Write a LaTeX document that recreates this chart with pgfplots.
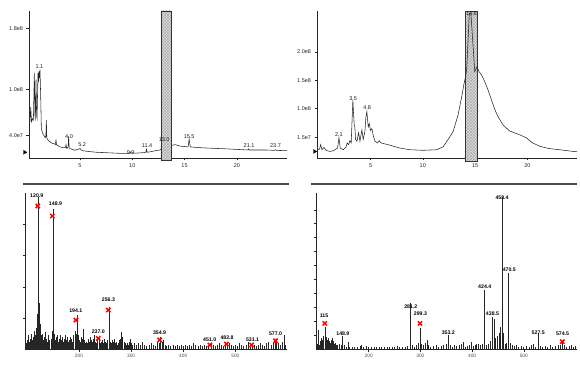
\documentclass[border=0pt]{standalone}
\usepackage{fontspec}
\setmainfont{Liberation Sans}
\usepackage{pgfplots}
\pgfplotsset{compat=1.18}
\usetikzlibrary{patterns}
\tikzset{
  plab/.style={font=\fontsize{5.5}{6}\selectfont, text=black!90, inner sep=0.5pt},
  slab/.style={font=\bfseries\fontsize{5.2}{6}\selectfont, text=black, inner sep=0.5pt},
}
\pgfplotsset{
  base/.style={scale only axis, anchor=south west, axis lines*=left,
    axis line style={-, line width=0.7pt, black!85}, tick align=outside,
    major tick length=2.5pt, tick style={line width=0.5pt, black!85},
    clip=false, /pgf/number format/assume math mode=true},
  chrom/.style={base, ticklabel style={font=\fontsize{5.5}{6}\selectfont, text=black!85},
    xtick={5,10,15,20}},
  spec/.style={base, ticklabel style={font=\fontsize{4.8}{5}\selectfont, text=black!70},
    xtick={200,300,400,500}, xticklabel style={yshift=1pt}, yticklabels={}, ymin=0},
}
\begin{document}
\begin{tikzpicture}
\useasboundingbox (0pt,0pt) rectangle (580pt,369pt);
% ---------------- top left chromatogram ----------------
\begin{axis}[chrom, at={(29pt,211pt)}, width=258pt, height=147pt,
  xmin=0.12, xmax=24.8, ymin=0.105, ymax=2.03,
  ytick={0.4,1.0,1.8}, yticklabels={4.0e7,1.0e8,1.8e8}]
\addplot[black!85, line width=0.55pt] coordinates {
(0.15,0.54)(0.22,0.60)(0.29,0.77)(0.36,0.58)(0.45,0.62)(0.54,0.60)(0.63,1.22)(0.70,0.64)
(0.73,0.62)(0.79,1.13)(0.85,0.66)(0.89,0.63)(0.98,1.22)(1.03,1.10)(1.08,1.24)(1.12,1.15)
(1.17,1.26)(1.24,0.91)(1.30,0.49)(1.40,0.44)(1.49,0.41)(1.60,0.39)(1.68,0.37)(1.74,0.40)
(1.78,0.60)(1.82,0.38)(1.87,0.35)(2.10,0.32)(2.29,0.30)(2.55,0.29)(2.65,0.28)(2.70,0.35)
(2.75,0.28)(2.83,0.27)(3.10,0.25)(3.40,0.24)(3.60,0.24)(3.66,0.28)(3.72,0.23)(3.78,0.23)
(3.87,0.26)(3.91,0.39)(3.96,0.24)(4.04,0.23)(4.20,0.22)(4.36,0.21)(4.60,0.21)(4.85,0.22)
(5.0,0.23)(5.1,0.21)(5.3,0.20)(5.8,0.19)(6.59,0.18)(7.4,0.175)(8.18,0.17)(9.0,0.165)
(9.6,0.165)(9.77,0.17)(9.84,0.185)(9.9,0.17)(10.5,0.17)(11.04,0.175)(11.3,0.18)(11.36,0.22)
(11.42,0.18)(11.68,0.185)(12.2,0.20)(12.64,0.21)(12.9,0.24)(13.0,0.29)(13.1,0.25)(13.4,0.26)
(13.75,0.27)(14.1,0.28)(14.6,0.26)(15.0,0.255)(15.34,0.25)(15.44,0.35)(15.55,0.25)(16.45,0.24)
(17.2,0.235)(18.05,0.23)(19.0,0.225)(19.64,0.22)(20.4,0.215)(21.06,0.21)(21.12,0.225)(21.2,0.21)
(22.0,0.21)(22.8,0.21)(23.6,0.205)(23.7,0.215)(23.8,0.205)(24.8,0.20)};
\addplot[fill=gray!25, draw=black!80, line width=0.4pt,
  postaction={pattern=crosshatch, pattern color=gray!65}]
  coordinates {(12.73,0.08)(13.75,0.08)(13.75,2.03)(12.73,2.03)} -- cycle;
\addplot[only marks, mark=triangle*, mark size=2.2pt, mark options={rotate=-90, fill=black}]
  coordinates {(-0.30,0.18)};
\node[plab] at (axis cs:1.11,1.30) {1.1};
\node[plab] at (axis cs:3.95,0.39) {4.0};
\node[plab] at (axis cs:5.2,0.275) {5.2};
\node[plab] at (axis cs:9.84,0.175) {9.9};
\node[plab] at (axis cs:11.42,0.27) {11.4};
\node[plab] at (axis cs:13.05,0.34) {13.0};
\node[plab] at (axis cs:15.44,0.39) {15.5};
\node[plab] at (axis cs:21.17,0.27) {21.1};
\node[plab] at (axis cs:23.7,0.27) {23.7};
\end{axis}
% ---------------- top right chromatogram ----------------
\begin{axis}[chrom, at={(317pt,211pt)}, width=260pt, height=146.6pt,
  xmin=-0.12, xmax=24.75, ymin=0.135, ymax=2.71,
  ytick={0.5,1.0,1.5,2.0}, yticklabels={1.5e7,1.0e8,1.5e8,2.0e8}]
\addplot[fill=gray!25, draw=black!80, line width=0.4pt,
  postaction={pattern=crosshatch, pattern color=gray!65}]
  coordinates {(14.1,0.08)(15.2,0.08)(15.2,2.71)(14.1,2.71)} -- cycle;
\addplot[black!85, line width=0.55pt] coordinates {
(0.0,0.28)(0.12,0.29)(0.23,0.37)(0.35,0.28)(0.54,0.32)(0.73,0.27)(1.12,0.25)(1.4,0.26)
(1.6,0.28)(1.85,0.31)(1.98,0.49)(2.1,0.31)(2.4,0.28)(2.66,0.33)(2.77,0.40)(2.9,0.37)
(3.03,0.44)(3.15,0.40)(3.31,1.15)(3.38,0.90)(3.44,0.72)(3.5,0.68)(3.57,0.46)(3.7,0.43)
(3.86,0.58)(3.99,0.43)(4.17,0.63)(4.3,0.46)(4.46,0.60)(4.56,0.86)(4.65,0.95)(4.72,0.80)
(4.78,0.68)(4.88,0.74)(5.0,0.62)(5.13,0.65)(5.26,0.53)(5.42,0.43)(5.67,0.40)(5.83,0.44)
(6.0,0.40)(6.85,0.36)(7.8,0.31)(8.76,0.28)(10.03,0.27)(11.3,0.28)(11.94,0.33)(12.42,0.46)
(12.9,0.60)(13.37,0.89)(13.7,1.19)(13.92,1.42)(14.1,1.57)(14.2,1.70)(14.45,2.68)(14.6,2.68)
(14.97,1.65)(15.19,1.74)(15.38,1.65)(15.6,1.60)(15.92,1.48)(16.24,1.33)(16.56,1.16)(16.9,0.98)
(17.2,0.86)(17.7,0.71)(18.3,0.61)(19.3,0.54)(19.9,0.49)(20.5,0.40)(21.2,0.34)(22.1,0.30)
(23.1,0.28)(24.4,0.25)(24.75,0.245)};
\addplot[only marks, mark=triangle*, mark size=2.2pt, mark options={rotate=-90, fill=black}]
  coordinates {(-0.35,0.25)};
\node[plab] at (axis cs:1.98,0.54) {2.1};
\node[plab] at (axis cs:3.34,1.17) {3.5};
\node[plab] at (axis cs:4.68,1.02) {4.8};
\node[plab] at (axis cs:14.65,2.67) {14.6};
\end{axis}
% separator lines
\draw[line width=1.1pt, black!70] (23pt,185pt) -- (289pt,185pt);
\draw[line width=1.1pt, black!70] (311pt,185pt) -- (577pt,185pt);
% ---------------- bottom left spectrum ----------------
\begin{axis}[spec, at={(25pt,19.5pt)}, width=262pt, height=156.5pt,
  xmin=96.5, xmax=599, ymax=100, ytick={20,40,60,80}]
\addplot[ycomb, black!85, line width=0.55pt] coordinates {
(98,4)(100,6)(102,9)(104,5)(106,7)(108,10)(110,6)(112,8)(114,12)(116,9)(118,14)(120,20)
(121,23)(121.6,40)(122.9,97.6)(124,30)(125,16)(126,12)(128,9)(130,10)(132,6)(134,8)(136,11)
(138,7)(140,5)(142,9)(144,6)(146,7)(148,12)(149,8)(150.9,90)(152,10)(154,6)(156,8)(158,9)
(160,5)(162,7)(164,9)(166,6)(168,8)(170,5)(172,7)(174,9)(176,6)(178,8)(180,5)(182,6)(184,8)
(186,7)(188,5)(190,9)(192,12)(194,10)(196.1,22)(198,9)(200,6)(202,5)(204,8)(206,7)(208,13)
(210,6)(212,4)(214,5)(216,4)(218,7)(220,5)(222,8)(224,6)(226,5)(228,7)(230,9)(232,5)(234,4)
(236,6)(238,5)(239,8)(241,4)(243,5)(245,6)(247,4)(249,7)(251,5)(253,4)(255,6)(258.3,27.4)
(260,5)(262,4)(264,6)(266,5)(268,7)(270,4)(272,5)(274,3)(276,4)(278,6)(280,7)(282,11)(284,8)
(286,5)(288,4)(290,3)(292,4)(294,3)(296,5)(298,7)(300,4)(302,3)(306,4)(310,3)(314,4)(318,3)
(322,5)(326,3)(330,2)(334,3)(338,4)(342,3)(346,2)(350,5)(354,4)(356.9,8)(359,5)(362,6)(365,3)
(368,2)(372,3)(376,2)(380,3)(384,2)(388,3)(392,2)(396,3)(400,2)(404,3)(408,2)(412,3)(416,2)
(420,4)(424,3)(428,2)(432,3)(436,2)(440,3)(444,2)(448,3)(453,4)(457,3)(461,2)(465,3)(469,4)
(473,3)(477,2)(481,4)(484.8,5)(488,4)(492,3)(496,2)(500,3)(504,2)(508,4)(512,3)(516,2)(520,3)
(524,5)(528,3)(533,4)(536,3)(540,2)(544,3)(548,4)(552,3)(556,2)(560,4)(564,5)(568,3)(572,4)
(576,6)(579,5)(582,4)(586,3)(590,5)(593,9)(596,3)};
\addplot[only marks, mark=x, red, mark size=3pt, line width=1.5pt] coordinates {
(121,91.7)(148.9,85.3)(194.1,18.8)(237,7.1)(256.3,25.2)(354.9,6.1)(451,2.9)(482.8,3.5)
(531.1,2.9)(577,5.6)};
\node[slab] at (axis cs:119,98) {120.9};
\node[slab] at (axis cs:155,93.4) {148.9};
\node[slab] at (axis cs:194,24.6) {194.1};
\node[slab] at (axis cs:237,11.4) {237.0};
\node[slab] at (axis cs:256.5,31.6) {256.3};
\node[slab] at (axis cs:354.5,10.7) {354.9};
\node[slab] at (axis cs:450.7,6.5) {451.0};
\node[slab] at (axis cs:484,7.8) {482.8};
\node[slab] at (axis cs:533,6.5) {531.1};
\node[slab] at (axis cs:577,9.9) {577.0};
\end{axis}
% ---------------- bottom right spectrum ----------------
\begin{axis}[spec, at={(316pt,19.5pt)}, width=261pt, height=156.5pt,
  xmin=98, xmax=603, ymax=112, ytick={10,20,...,100}]
\addplot[ycomb, black!85, line width=0.55pt] coordinates {
(100,4)(101.5,13.9)(103,5)(105,3)(107,6)(109,8)(111,7)(113,10)(115,16.3)(116.5,12)(118,9)
(120,7)(122,8)(124,6)(126,5)(128,7)(130,8)(132,6)(134,4)(136,5)(138,3)(140,3)(143,4)(146,3)
(148.9,9.6)(152,3)(156,2)(159.5,5.6)(163,2)(168,1.5)(173,2)(178,1.5)(183,2.5)(186,3)(190,2)
(195,2.5)(200,2)(205,1.5)(210,2)(215,1.5)(220,2)(225,1.5)(230,2)(235,1.5)(240,2)(245,1.5)
(250,2)(255,2.5)(260,2)(265,1.5)(270,2)(275,2.5)(281.2,33)(284,3)(288,2)(292,3)(296,5)
(299.3,15.6)(302,4)(306,3)(310,5)(312.5,6.8)(315,3)(320,2)(325,2.5)(330,3)(335,2)(340,2.5)
(345,3)(350,4)(353.2,10.4)(357,3)(362,2)(366,3)(370,2.5)(375,3)(379,4)(382.5,5.6)(386,2)
(390,2.5)(394,3)(398.5,5.6)(402,2.5)(406,3)(409,4)(411.5,4)(415,3)(419,4)(424.4,42.5)(428,3)
(432,4)(436,6)(438.5,23.4)(442,22)(445,8)(449,10)(452,12)(455,16)(458.4,109)(461,12)(464,4)
(467,5)(470.5,54.4)(474,5)(477,3)(481,2.5)(485,3)(490,2)(495,2.5)(500,2)(505,2.5)(510,2)
(515,3)(519,4)(523,2)(527.5,11.6)(531,2.5)(536,2)(541,2.5)(546,2)(551,3)(556,2)(561,2.5)
(566,3)(570,3)(574.5,4.4)(578,3)(583,2)(588,2.5)(592,3)(596,2)(600,2.5)};
\addplot[only marks, mark=x, red, mark size=3pt, line width=1.5pt] coordinates {
(115,18.7)(299.3,18.7)(574.5,5.6)};
\node[slab] at (axis cs:113.5,24.1) {115};
\node[slab] at (axis cs:150,11.6) {148.9};
\node[slab] at (axis cs:281.5,30.5) {281.2};
\node[slab] at (axis cs:300,25.4) {299.3};
\node[slab] at (axis cs:354,12) {353.2};
\node[slab] at (axis cs:424.5,44.9) {424.4};
\node[slab] at (axis cs:439.5,25.4) {438.5};
\node[slab] at (axis cs:458,108.7) {458.4};
\node[slab] at (axis cs:472,56.8) {470.5};
\node[slab] at (axis cs:528,12) {527.5};
\node[slab] at (axis cs:575,11) {574.5};
\end{axis}
\end{tikzpicture}
\end{document}
